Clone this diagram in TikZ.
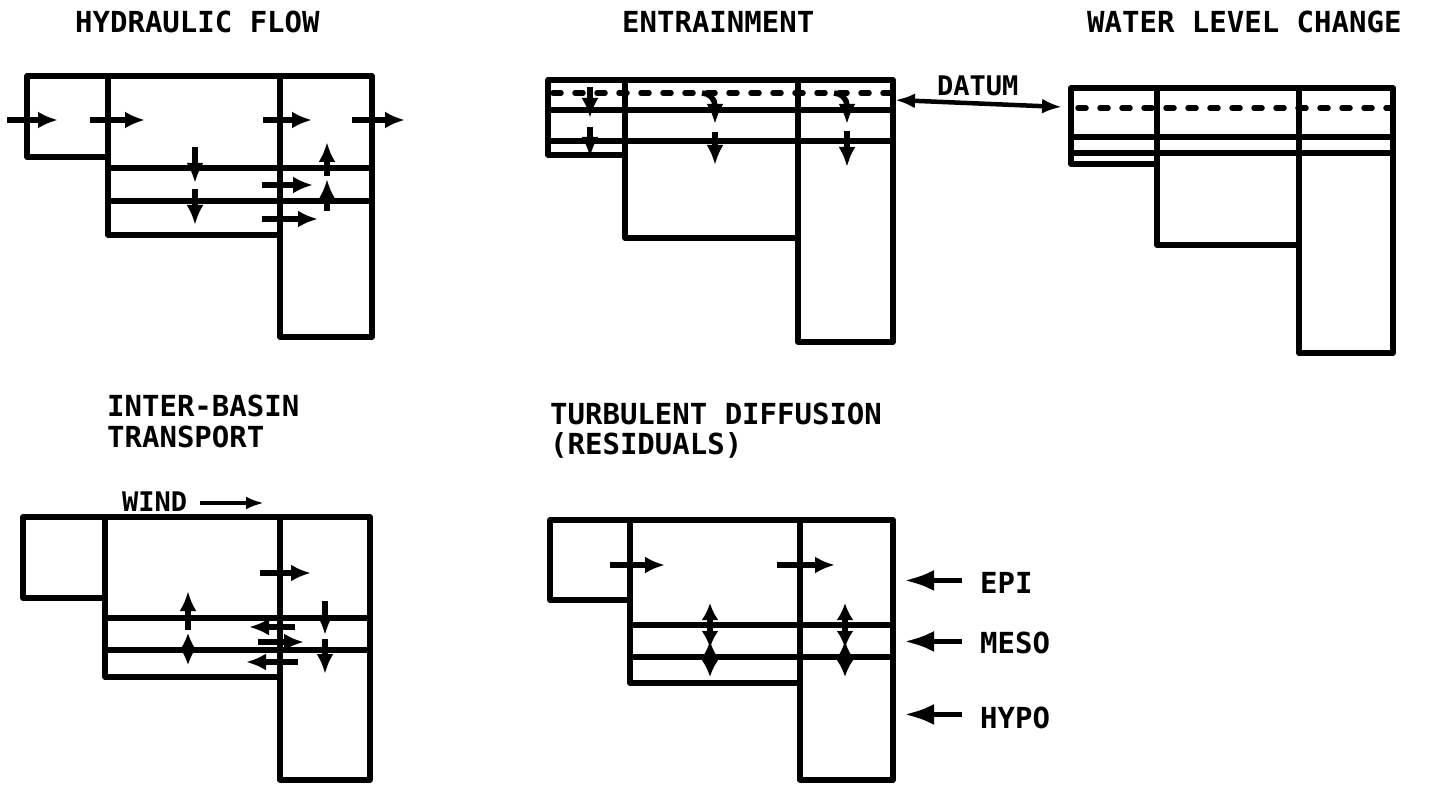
\documentclass[tikz,border=0pt]{standalone}
\usepackage{fontspec}
\newfontfamily\stencilfont{DejaVu Sans Mono}
\usetikzlibrary{arrows.meta}
% basin outline: left, divider 1, divider 2, right, top, left bottom, middle bottom, right bottom
\newcommand\basin[8]{%
  \draw[wall] (#1,#5) -- (#4,#5) -- (#4,#8) -- (#3,#8) -- (#3,#7) -- (#2,#7) -- (#2,#6) -- (#1,#6) -- cycle;
  \draw[wall] (#2,#5) -- (#2,#6) (#3,#5) -- (#3,#7);}
\tikzset{
  wall/.style={line width=5.5pt,line join=round,line cap=round},
  flow/.style={line width=5.5pt,-{Latex[length=20pt,width=17pt]}},
  twoway/.style={line width=5.5pt,{Latex[length=17pt,width=17pt]}-{Latex[length=17pt,width=17pt]}},
  datumline/.style={line width=5.5pt,line cap=round,dash pattern=on 8pt off 14pt},
  head/.style={font=\stencilfont\bfseries\fontsize{29}{30}\selectfont,anchor=base west,inner sep=0pt},
  tag/.style={font=\stencilfont\bfseries\fontsize{27}{28}\selectfont,anchor=base west,inner sep=0pt},
  layer/.style={line width=5.5pt,-{Latex[length=30pt,width=21pt]}}}
\begin{document}
\begin{tikzpicture}[x=1pt,y=-1pt]
\useasboundingbox (0,0) rectangle (1429,786);
% titles
\node[head] (hyd) at (75,33) {HYDRAULIC FLOW};
\node[head] (ent) at (622,33) {ENTRAINMENT};
\node[head] (wlc) at (1087,33) {WATER LEVEL CHANGE};
\node[head] (ibt1) at (107,416) {INTER-BASIN};
\node[head] (ibt2) at (107,447) {TRANSPORT};
\node[head] (tdf1) at (550,424) {TURBULENT DIFFUSION};
\node[head] (tdf2) at (550,454) {(RESIDUALS)};
% hydraulic flow
\basin{27}{108}{280}{372}{76}{157}{235}{337}
\draw[wall] (108,168) -- (372,168) (108,201) -- (372,201);
\foreach \a/\b in {7/58,90/145,263/312,352/405} \draw[flow] (\a,120) -- (\b,120);
\draw[flow] (262,185) -- (313,185);
\draw[flow] (262,219) -- (318,219);
\draw[flow] (195,147) -- (195,183);
\draw[flow] (195,189) -- (195,225);
\draw[flow] (327,176) -- (327,142);
\draw[flow] (327,211) -- (327,179);
% entrainment
\basin{548}{625}{798}{893}{80}{155}{238}{342}
\draw[wall] (548,110) -- (893,110) (548,141) -- (893,141);
\draw[datumline] (553,93) -- (890,93);
\draw[flow] (590,87) -- (590,118);
\draw[flow] (590,127) -- (590,157);
\draw[flow] (702,93) to[out=0,in=90] (715,106) -- (715,124);
\draw[flow] (834,93) to[out=0,in=90] (847,106) -- (847,124);
\draw[flow] (715,132) -- (715,165);
\draw[flow] (847,131) -- (847,167);
\node[tag] (datum) at (937,96) {DATUM};
\draw[line width=4.5pt,{Latex[length=20pt,width=15pt]}-{Latex[length=20pt,width=15pt]}] (895,100) -- (1062,107);
% water level change
\basin{1071}{1157}{1299}{1393}{88}{164}{245}{353}
\draw[wall] (1071,137) -- (1393,137) (1071,153) -- (1393,153);
\draw[datumline] (1078,108) -- (1390,108);
% inter-basin transport
\basin{23}{105}{280}{370}{517}{598}{677}{780}
\draw[wall] (105,618) -- (370,618) (105,650) -- (370,650);
\node[tag] (wind) at (122,511) {WIND};
\draw[line width=4pt,-{Latex[length=18pt,width=13pt]}] (200,503) -- (264,503);
\draw[flow] (260,573) -- (311,573);
\draw[flow] (295,627) -- (249,627);
\draw[flow] (258,642) -- (304,642);
\draw[flow] (298,662) -- (246,662);
\draw[flow] (188,630) -- (188,591);
\draw[twoway] (188,633) -- (188,665);
\draw[flow] (325,601) -- (325,635);
\draw[flow] (325,639) -- (325,674);
% turbulent diffusion
\basin{550}{630}{800}{893}{520}{600}{683}{780}
\draw[wall] (630,625) -- (893,625) (630,657) -- (893,657);
\draw[flow] (610,565) -- (665,565);
\draw[flow] (777,565) -- (835,565);
\foreach \x in {710,845}{
  \draw[twoway] (\x,603) -- (\x,648);
  \draw[twoway] (\x,641) -- (\x,677);}
\node[head] (epi) at (980,593) {EPI};
\node[head] (meso) at (980,653) {MESO};
\node[head] (hypo) at (980,728) {HYPO};
\draw[layer] ([xshift=-18pt,yshift=2pt]epi.west) -- ++(-58,0);
\draw[layer] ([xshift=-18pt,yshift=1pt]meso.west) -- ++(-58,0);
\draw[layer] ([xshift=-18pt,yshift=3pt]hypo.west) -- ++(-58,0);
\end{tikzpicture}
\end{document}
